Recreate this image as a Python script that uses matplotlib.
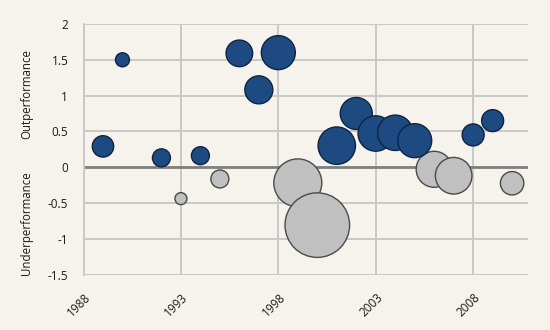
import matplotlib
matplotlib.use("Agg")
import matplotlib.pyplot as plt
import matplotlib.transforms as mtransforms
import numpy as np

plt.rcParams['font.family'] = ['Open Sans', 'DejaVu Sans']

# Outperformance (blue) bubbles
out_years = [1989, 1990, 1992, 1994, 1996, 1997, 1998, 2001, 2002, 2003, 2004, 2005, 2008, 2009]
out_values = [0.29, 1.50, 0.13, 0.16, 1.59, 1.08, 1.60, 0.30, 0.75, 0.47, 0.48, 0.37, 0.45, 0.65]
out_sizes = [114, 49, 81, 81, 177, 196, 289, 350, 256, 313, 313, 289, 121, 121]

# Underperformance (gray) bubbles
under_years = [1993, 1995, 1999, 2000, 2006, 2007, 2010]
under_values = [-0.44, -0.165, -0.22, -0.81, -0.03, -0.12, -0.225]
under_sizes = [36, 81, 576, 1043, 324, 335, 137]

y_ticks = [-1.5, -1, -0.5, 0, 0.5, 1, 1.5, 2]
y_tick_labels = ['-1.5', '-1', '-0.5', '0', '0.5', '1', '1.5', '2']
x_ticks = [1988, 1993, 1998, 2003, 2008]

bg = '#F5F3EC'
fig = plt.figure(figsize=(5.5, 3.3), dpi=100, facecolor=bg)
ax = fig.add_axes([83.5/550, 1 - 274.5/330, (527.7-83.5)/550, (274.5-24)/330])
ax.set_facecolor(bg)

k = (1.44) ** 2  # radius^2 in px -> marker area in pt^2
ax.scatter(under_years, under_values, s=[k * v for v in under_sizes],
           c='#C1C0C0', edgecolors='#4A4A4A', linewidths=1.0, zorder=3)
ax.scatter(out_years, out_values, s=[k * v for v in out_sizes],
           c='#1E4A82', edgecolors='#0E2440', linewidths=1.0, zorder=4)

ax.set_xlim(1988, 2010.8)
ax.set_ylim(-1.5, 2)
ax.set_xticks(x_ticks)
ax.set_yticks(y_ticks)
ax.set_yticklabels(y_tick_labels)
ax.grid(True, color='#C8C8C8', linewidth=1.4, zorder=0)
ax.set_axisbelow(True)
ax.axhline(0, color='#7F7F7F', linewidth=2.0, zorder=2)
for s in ['top', 'right', 'bottom']:
    ax.spines[s].set_visible(False)
ax.spines['left'].set_color('#C8C8C8')
ax.spines['left'].set_linewidth(1.4)
ax.tick_params(axis='both', length=0, labelsize=8.5, colors='#1A1A1A')
ax.tick_params(axis='y', pad=11)

offset = mtransforms.ScaledTranslation(5/100, -16/100, fig.dpi_scale_trans)
ax.set_xticklabels([str(x) for x in x_ticks])
for lbl in ax.get_xticklabels():
    lbl.set_rotation(45)
    lbl.set_rotation_mode('anchor')
    lbl.set_ha('right')
    lbl.set_va('center')
    lbl.set_transform(lbl.get_transform() + offset)

fig.text(27/550, 1 - 94/330, 'Outperformance', rotation=90, ha='center', va='center',
         fontsize=8.3, color='#1A1A1A')
fig.text(27/550, 1 - 223/330, 'Underperformance', rotation=90, ha='center', va='center',
         fontsize=8.3, color='#1A1A1A')

fig.savefig('out.png', dpi=100, facecolor=bg)
